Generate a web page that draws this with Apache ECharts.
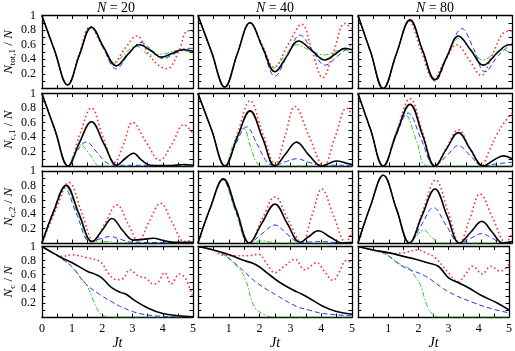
<!DOCTYPE html>
<html>
<head>
<meta charset="utf-8" />
<script src="https://cdn.jsdelivr.net/npm/echarts@6/dist/echarts.min.js"></script>
</head>
<body style="margin:0">
<div id="main" style="width:515px;height:351px"></div>
<script>
// [Jt, value] pairs
// row 1: N_tot,1 / N
var tot20Black = [[0,1],[0.42,0.52],[0.85,0.05],[1.25,0.47],[1.64,0.84],[2.05,0.56],[2.46,0.31],[2.85,0.47],[3.22,0.6],[3.6,0.52],[3.95,0.43],[4.3,0.48],[4.66,0.53],[5,0.51]];
var tot20Red = [[0,1],[0.42,0.52],[0.85,0.05],[1.24,0.48],[1.6,0.85],[2.0,0.58],[2.37,0.35],[2.75,0.55],[3.14,0.72],[3.52,0.48],[3.85,0.32],[4.14,0.27],[4.5,0.48],[4.83,0.79],[5,0.78]];
var tot20Blue = [[0,1],[0.42,0.52],[0.85,0.05],[1.25,0.47],[1.64,0.84],[2.05,0.54],[2.46,0.27],[2.87,0.47],[3.28,0.63],[3.65,0.52],[4.0,0.41],[4.4,0.48],[4.8,0.55],[5,0.55]];
var tot20Green = [[0,1],[0.42,0.52],[0.85,0.05],[1.25,0.47],[1.64,0.84],[2.03,0.58],[2.4,0.345],[2.75,0.48],[3.1,0.58],[3.6,0.46],[4.1,0.48],[4.5,0.52],[5,0.5]];

var tot40Black = [[0,1],[0.44,0.5],[0.87,0.02],[1.28,0.48],[1.69,0.9],[2.1,0.56],[2.5,0.23],[2.88,0.44],[3.26,0.65],[3.7,0.52],[4.12,0.39],[4.45,0.47],[4.77,0.55],[5,0.53]];
var tot40Red = [[0,1],[0.44,0.5],[0.87,0.02],[1.28,0.48],[1.69,0.9],[2.1,0.58],[2.47,0.29],[2.92,0.6],[3.37,0.88],[3.7,0.52],[4.05,0.15],[4.4,0.5],[4.77,0.89],[5,0.82]];
var tot40Blue = [[0,1],[0.44,0.5],[0.87,0.02],[1.28,0.48],[1.69,0.9],[2.1,0.54],[2.5,0.17],[2.9,0.45],[3.31,0.73],[3.72,0.52],[4.12,0.32],[4.55,0.45],[5,0.61]];
var tot40Green = [[0,1],[0.44,0.5],[0.87,0.02],[1.28,0.48],[1.69,0.9],[2.08,0.58],[2.45,0.28],[2.82,0.45],[3.2,0.6],[3.65,0.52],[4.1,0.46],[4.7,0.53],[5,0.5]];

var tot80Black = [[0,1],[0.41,0.5],[0.82,0.0],[1.25,0.48],[1.69,0.94],[2.1,0.52],[2.5,0.12],[2.88,0.43],[3.26,0.72],[3.67,0.52],[4.07,0.32],[4.55,0.5],[4.9,0.6],[5,0.6]];
var tot80Red = [[0,1],[0.41,0.5],[0.82,0.0],[1.25,0.48],[1.66,0.92],[2.05,0.52],[2.45,0.14],[2.85,0.4],[3.2,0.6],[3.6,0.4],[4.0,0.18],[4.35,0.45],[4.72,0.76],[5,0.79]];
var tot80Blue = [[0,1],[0.41,0.5],[0.82,0.0],[1.25,0.48],[1.69,0.94],[2.1,0.5],[2.5,0.1],[2.95,0.5],[3.37,0.82],[3.75,0.55],[4.12,0.23],[4.55,0.45],[5,0.62]];
var tot80Green = [[0,1],[0.41,0.5],[0.82,0.0],[1.25,0.48],[1.69,0.94],[2.1,0.52],[2.5,0.13],[2.9,0.45],[3.3,0.69],[3.7,0.52],[4.07,0.39],[4.4,0.47],[4.67,0.53],[5,0.48]];

// row 2: N_c,1 / N
var c1n20Black = [[0,1],[0.43,0.5],[0.87,0],[1.25,0.33],[1.64,0.61],[2.06,0.3],[2.48,0.01],[2.75,0.1],[3.03,0.175],[3.3,0.08],[3.6,0.01],[4.2,0.005],[4.7,0.02],[5,0.01]];
var c1n20Red = [[0,1],[0.43,0.5],[0.87,0],[1.25,0.43],[1.64,0.8],[2.02,0.4],[2.4,0.05],[2.7,0.3],[3.0,0.6],[3.45,0.33],[3.9,0.08],[4.3,0.3],[4.7,0.57],[5,0.45]];
var c1n20Blue = [[0,1],[0.43,0.5],[0.87,0],[1.15,0.2],[1.47,0.33],[1.8,0.2],[2.1,0.06],[2.4,0.01],[3.0,0.01],[5,0]];
var c1n20Green = [[0,1],[0.43,0.5],[0.87,0],[1.05,0.15],[1.28,0.29],[1.6,0.15],[1.93,0],[5,0]];

var c1n40Black = [[0,1],[0.44,0.5],[0.88,0],[1.28,0.4],[1.69,0.76],[2.1,0.38],[2.5,0],[2.85,0.17],[3.2,0.33],[3.6,0.15],[4.02,0],[4.25,0.035],[4.5,0.07],[4.8,0.04],[5,0.02]];
var c1n40Red = [[0,1],[0.44,0.5],[0.88,0],[1.28,0.45],[1.69,0.9],[2.1,0.45],[2.5,0.02],[2.83,0.42],[3.15,0.82],[3.6,0.42],[4.08,0.01],[4.45,0.4],[4.83,0.8],[5,0.7]];
var c1n40Blue = [[0,1],[0.44,0.5],[0.88,0],[1.22,0.3],[1.58,0.54],[1.92,0.3],[2.25,0.05],[2.5,0.01],[2.85,0.06],[3.2,0.1],[3.6,0.05],[4.0,0.01],[5,0.01]];
var c1n40Green = [[0,1],[0.44,0.5],[0.88,0],[1.15,0.3],[1.47,0.52],[1.72,0.25],[1.96,0.02],[2.2,0],[5,0]];

var c1n80Black = [[0,1],[0.41,0.5],[0.82,0],[1.25,0.45],[1.69,0.85],[2.1,0.42],[2.5,0],[2.88,0.24],[3.26,0.46],[3.65,0.23],[4.07,0],[4.4,0.08],[4.72,0.14],[5,0.1]];
var c1n80Red = [[0,1],[0.41,0.5],[0.82,0],[1.25,0.47],[1.69,0.93],[2.1,0.46],[2.5,0],[2.88,0.26],[3.26,0.5],[3.63,0.24],[4.0,0],[4.25,0.2],[4.5,0.43],[4.75,0.6],[5,0.73]];
var c1n80Blue = [[0,1],[0.41,0.5],[0.82,0],[1.22,0.4],[1.63,0.73],[2.05,0.37],[2.5,0],[2.88,0.14],[3.26,0.28],[3.65,0.14],[4.05,0],[4.5,0.03],[5,0.05]];
var c1n80Green = [[0,1],[0.41,0.5],[0.82,0],[1.17,0.38],[1.53,0.71],[1.9,0.35],[2.28,0],[5,0]];

// row 3: N_c,2 / N
var c2n20Black = [[0,0],[0.4,0.45],[0.8,0.8],[1.23,0.4],[1.67,0.02],[2.0,0.18],[2.32,0.34],[2.68,0.17],[3.03,0.04],[3.35,0.05],[3.68,0.065],[4.05,0.03],[4.4,0.01],[5,0.01]];
var c2n20Red = [[0,0],[0.45,0.45],[0.9,0.84],[1.32,0.42],[1.73,0.02],[2.1,0.28],[2.48,0.53],[2.85,0.27],[3.19,0.03],[3.55,0.3],[3.93,0.55],[4.33,0.27],[4.72,0.02],[5,0.04]];
var c2n20Blue = [[0,0],[0.37,0.43],[0.74,0.76],[1.15,0.4],[1.6,0.02],[1.95,0.06],[2.26,0.09],[2.6,0.05],[3.0,0.01],[5,0.005]];
var c2n20Green = [[0,0],[0.38,0.44],[0.77,0.78],[1.2,0.4],[1.65,0.01],[1.95,0.015],[2.2,0.02],[2.5,0.005],[5,0]];

var c2n40Black = [[0,0],[0.41,0.5],[0.82,0.89],[1.25,0.45],[1.67,0],[2.08,0.28],[2.5,0.54],[2.9,0.27],[3.31,0.01],[3.6,0.09],[3.9,0.17],[4.3,0.08],[4.7,0],[5,0.01]];
var c2n40Red = [[0,0],[0.41,0.5],[0.82,0.89],[1.25,0.45],[1.67,0],[2.08,0.33],[2.5,0.64],[2.93,0.32],[3.36,0.01],[3.7,0.38],[4.02,0.75],[4.4,0.38],[4.8,0.01],[5,0.16]];
var c2n40Blue = [[0,0],[0.4,0.49],[0.8,0.87],[1.23,0.44],[1.67,0],[2.08,0.13],[2.5,0.25],[2.9,0.12],[3.3,0.01],[3.7,0.015],[4.0,0.02],[4.5,0.005],[5,0]];
var c2n40Green = [[0,0],[0.4,0.49],[0.8,0.88],[1.22,0.44],[1.65,0],[1.9,0.02],[2.1,0.03],[2.4,0.01],[2.7,0],[5,0]];

var c2n80Black = [[0,0],[0.41,0.52],[0.82,0.94],[1.25,0.47],[1.67,0],[2.08,0.38],[2.5,0.75],[2.9,0.37],[3.3,0],[3.66,0.15],[4.02,0.3],[4.36,0.15],[4.7,0],[5,0.02]];
var c2n80Red = [[0,0],[0.41,0.52],[0.82,0.94],[1.25,0.47],[1.67,0],[2.1,0.44],[2.52,0.875],[2.92,0.44],[3.3,0],[3.63,0.34],[3.96,0.68],[4.38,0.34],[4.8,0.01],[5,0.13]];
var c2n80Blue = [[0,0],[0.41,0.52],[0.82,0.94],[1.25,0.47],[1.67,0],[2.06,0.25],[2.45,0.49],[2.87,0.24],[3.3,0],[3.66,0.065],[4.02,0.13],[4.36,0.065],[4.7,0],[5,0.01]];
var c2n80Green = [[0,0],[0.41,0.52],[0.82,0.94],[1.25,0.47],[1.67,0],[1.9,0.1],[2.12,0.18],[2.4,0.08],[2.65,0],[5,0]];

// row 4: N_c / N
var cn20Black = [[0,1],[0.36,0.91],[0.7,0.83],[1.0,0.77],[1.5,0.65],[1.8,0.6],[2.0,0.55],[2.3,0.42],[2.6,0.35],[2.8,0.32],[3.05,0.24],[3.5,0.13],[4.0,0.05],[4.5,0.02],[5,0.005]];
var cn20Red = [[0,1],[0.36,0.91],[0.65,0.86],[1.0,0.88],[1.5,0.84],[1.94,0.78],[2.2,0.62],[2.48,0.53],[2.7,0.55],[2.9,0.67],[3.2,0.58],[3.45,0.55],[3.68,0.47],[3.84,0.49],[4.06,0.63],[4.28,0.47],[4.55,0.61],[4.75,0.55],[5,0.27]];
var cn20Blue = [[0,1],[0.36,0.91],[0.65,0.83],[1.0,0.71],[1.45,0.47],[1.95,0.31],[2.3,0.22],[2.6,0.15],[3.0,0.08],[3.3,0.045],[4.0,0.01],[5,0]];
var cn20Green = [[0,1],[0.36,0.91],[0.65,0.83],[1.0,0.71],[1.3,0.55],[1.5,0.44],[1.7,0.24],[1.88,0.08],[2.1,0.01],[2.4,0],[5,0]];

var cn40Black = [[0,1],[0.5,0.95],[1.04,0.88],[1.5,0.8],[1.8,0.76],[2.0,0.71],[2.23,0.63],[2.66,0.49],[3.1,0.38],[3.35,0.33],[3.64,0.26],[4.07,0.15],[4.5,0.08],[5,0.04]];
var cn40Red = [[0,1],[0.5,0.95],[0.77,0.88],[1.2,0.87],[1.6,0.87],[1.96,0.89],[2.2,0.78],[2.5,0.63],[2.8,0.72],[3.15,0.82],[3.47,0.67],[3.85,0.77],[4.1,0.65],[4.38,0.52],[4.6,0.65],[4.81,0.8],[5,0.77]];
var cn40Blue = [[0,1],[0.5,0.95],[0.8,0.9],[1.36,0.7],[1.9,0.49],[2.55,0.31],[3.2,0.15],[3.6,0.1],[4.07,0.05],[5,0.02]];
var cn40Green = [[0,1],[0.5,0.95],[0.8,0.9],[1.36,0.67],[1.58,0.49],[1.8,0.17],[2.12,0.04],[2.5,0],[5,0]];

var cn80Black = [[0,1],[0.5,0.95],[1.04,0.91],[1.5,0.86],[1.9,0.82],[2.3,0.77],[2.66,0.72],[2.99,0.56],[3.31,0.49],[3.64,0.42],[4.07,0.31],[4.61,0.2],[5,0.1]];
var cn80Red = [[0,1],[0.5,0.95],[1.04,0.9],[1.5,0.91],[1.96,0.95],[2.3,0.9],[2.56,0.84],[2.99,0.63],[3.31,0.5],[3.55,0.6],[3.8,0.72],[4.12,0.61],[4.39,0.72],[4.72,0.65],[5,0.75]];
var cn80Blue = [[0,1],[0.5,0.95],[0.85,0.91],[1.47,0.72],[2.23,0.58],[2.99,0.36],[3.85,0.2],[4.5,0.11],[5,0.06]];
var cn80Green = [[0,1],[0.5,0.95],[0.85,0.91],[1.47,0.73],[1.69,0.69],[1.9,0.57],[2.07,0.45],[2.28,0.17],[2.45,0.05],[2.6,0.01],[2.8,0],[5,0]];

var nValues = [20, 40, 80];
var rowNames = [
  "{i|N}{s|tot,1} / {i|N}",
  "{i|N}{s|c,1} / {i|N}",
  "{i|N}{s|c,2} / {i|N}",
  "{i|N}{s|c} / {i|N}"
];
// each panel: [red, green, blue, black]
var panels = [
  [[tot20Red, tot20Green, tot20Blue, tot20Black], [tot40Red, tot40Green, tot40Blue, tot40Black], [tot80Red, tot80Green, tot80Blue, tot80Black]],
  [[c1n20Red, c1n20Green, c1n20Blue, c1n20Black], [c1n40Red, c1n40Green, c1n40Blue, c1n40Black], [c1n80Red, c1n80Green, c1n80Blue, c1n80Black]],
  [[c2n20Red, c2n20Green, c2n20Blue, c2n20Black], [c2n40Red, c2n40Green, c2n40Blue, c2n40Black], [c2n80Red, c2n80Green, c2n80Blue, c2n80Black]],
  [[cn20Red, cn20Green, cn20Blue, cn20Black], [cn40Red, cn40Green, cn40Blue, cn40Black], [cn80Red, cn80Green, cn80Blue, cn80Black]]
];

var FONT = "Liberation Serif";
var lineStyles = [
  { color: "#ff3333", width: 1.6, type: [1.6, 2.6] },    // dotted red
  { color: "#22cc22", width: 1, type: [5, 2, 1.5, 2] }, // dash-dot green
  { color: "#2233ff", width: 1, type: [5, 3] },         // dashed blue
  { color: "#000000", width: 1.6, type: "solid" }      // solid black
];

var colLeft = [39, 198, 358];
var colW = 154;
var rowTop = [15.5, 93.5, 171, 246.5];
var rowH = [73, 72.5, 72, 73];

var myChart = echarts.init(document.getElementById("main"));
var grids = [], xAxes = [], yAxes = [], series = [], titles = [];

var axisLine = { show: true, onZero: false, lineStyle: { color: "#000", width: 1.3 } };
var tick = { show: true, inside: true, length: 3.5, lineStyle: { color: "#000", width: 1 } };
var minor = { show: true, splitNumber: 2, length: 3.5, lineStyle: { color: "#000", width: 1 } };

for (var c = 0; c < 3; c++) {
  titles.push({
    text: "{i|N} = " + nValues[c],
    left: colLeft[c] + colW / 2,
    textAlign: "center",
    top: 1,
    padding: 0,
    textStyle: {
      fontFamily: FONT, fontSize: 14, fontWeight: "normal", color: "#000",
      rich: { i: { fontFamily: FONT, fontSize: 14, fontStyle: "italic", color: "#000" } }
    }
  });
}

for (var r = 0; r < 4; r++) {
  for (var c = 0; c < 3; c++) {
    var gi = r * 3 + c;
    grids.push({ left: colLeft[c], top: rowTop[r], width: colW, height: rowH[r] });
    var bottomRow = r === 3;
    xAxes.push({
      type: "value", gridIndex: gi, position: "bottom", min: 0, max: 5, interval: 1,
      axisLine: axisLine, axisTick: tick, minorTick: minor, splitLine: { show: false },
      axisLabel: {
        show: bottomRow, margin: 6, fontFamily: FONT, fontSize: 12, color: "#000",
        formatter: (function (col) {
          return function (v) { return col > 0 && v === 0 ? "" : String(v); };
        })(c)
      },
      name: bottomRow ? "Jt" : "",
      nameLocation: "middle", nameGap: 17,
      nameTextStyle: { fontFamily: FONT, fontSize: 14, fontStyle: "italic", color: "#000" }
    });
    xAxes.push({
      type: "value", gridIndex: gi, position: "top", min: 0, max: 5, interval: 1,
      axisLine: axisLine, axisTick: tick, minorTick: minor, splitLine: { show: false },
      axisLabel: { show: false }
    });
    yAxes.push({
      type: "value", gridIndex: gi, position: "left", min: 0, max: 1, interval: 0.2,
      axisLine: axisLine, axisTick: tick, minorTick: minor, splitLine: { show: false },
      axisLabel: {
        show: c === 0, margin: 6, fontFamily: FONT, fontSize: 12, color: "#000",
        formatter: function (v) { return v === 0 ? "" : String(Math.round(v * 10) / 10); }
      },
      name: c === 0 ? rowNames[r] : "",
      nameLocation: "middle", nameRotate: 90, nameGap: 15,
      nameTextStyle: {
        fontFamily: FONT, fontSize: 13, color: "#000", lineHeight: 16,
        rich: {
          i: { fontFamily: FONT, fontSize: 13, fontStyle: "italic", color: "#000", lineHeight: 16 },
          s: { fontFamily: FONT, fontSize: 9, color: "#000", lineHeight: 8, verticalAlign: "bottom" }
        }
      }
    });
    yAxes.push({
      type: "value", gridIndex: gi, position: "right", min: 0, max: 1, interval: 0.2,
      axisLine: axisLine, axisTick: tick, minorTick: minor, splitLine: { show: false },
      axisLabel: { show: false }
    });
    var sets = panels[r][c];
    for (var k = 0; k < 4; k++) {
      series.push({
        type: "line",
        xAxisIndex: 2 * gi,
        yAxisIndex: 2 * gi,
        data: sets[k],
        symbol: "none",
        smooth: 0.4,
        clip: true,
        z: 2 + k,
        lineStyle: lineStyles[k]
      });
    }
  }
}

myChart.setOption({
  animation: false,
  backgroundColor: "#fff",
  title: titles,
  grid: grids,
  xAxis: xAxes,
  yAxis: yAxes,
  series: series
});
</script>
</body>
</html>
